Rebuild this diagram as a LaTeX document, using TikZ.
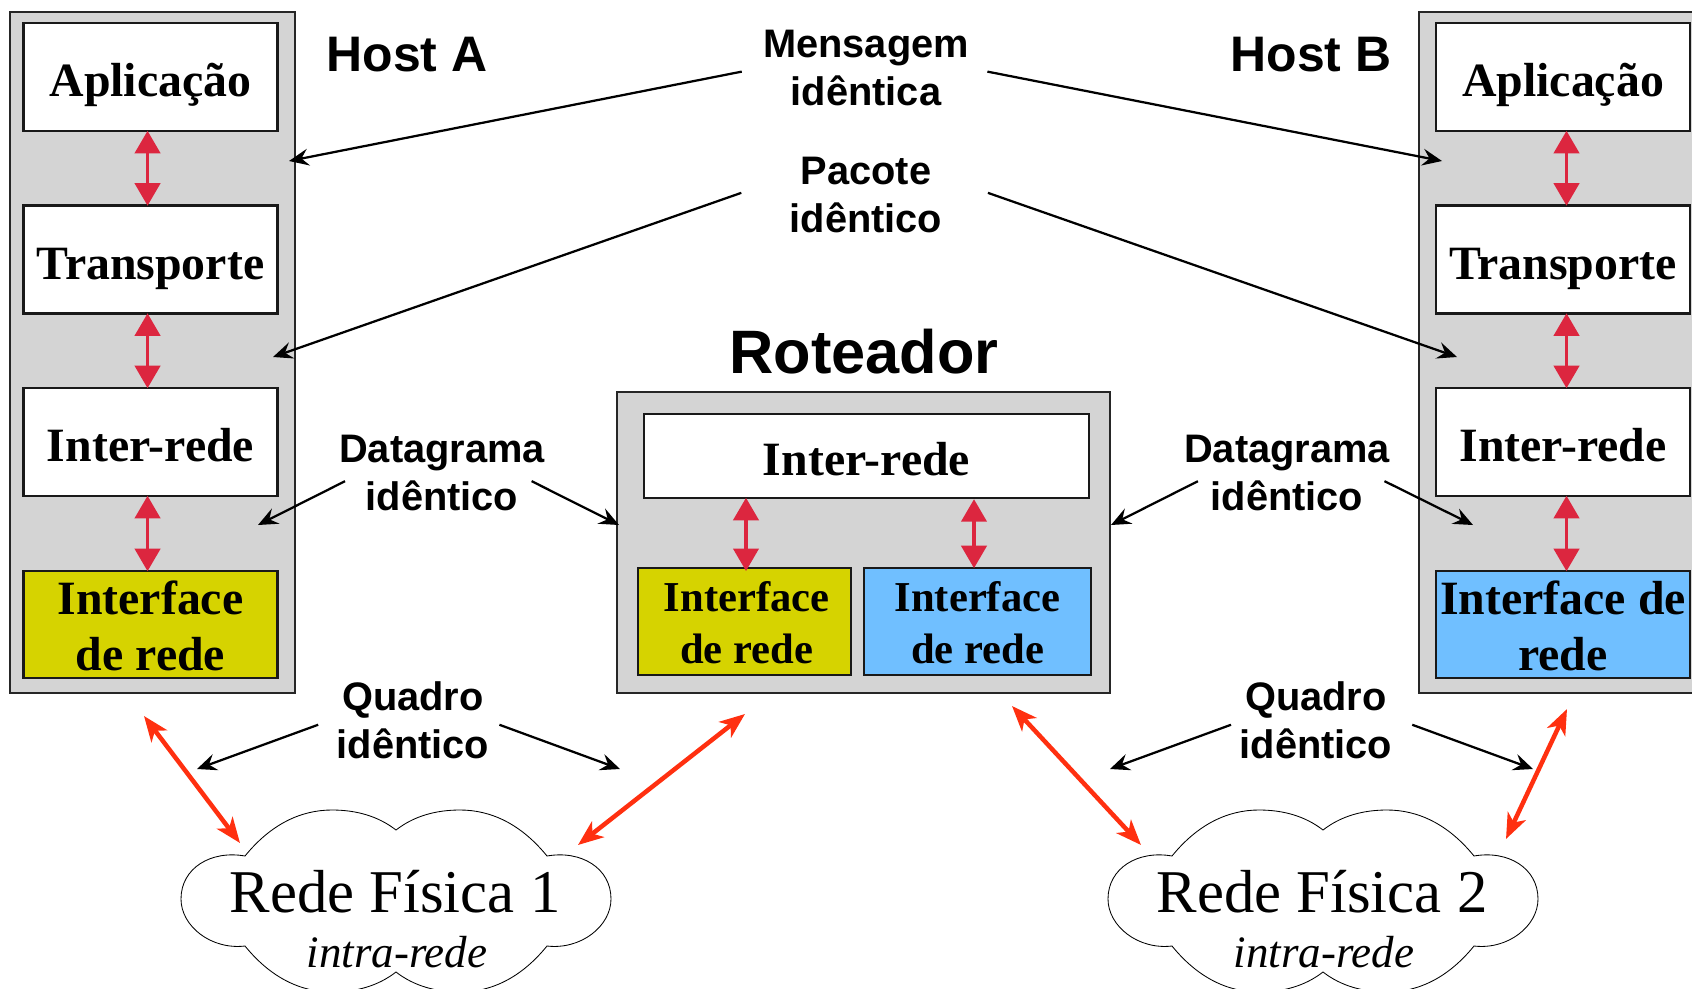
\documentclass[tikz,border=0pt]{standalone}
\usepackage{fontspec}
\setmainfont{Liberation Serif}
\setsansfont{Liberation Sans}
\usetikzlibrary{arrows.meta}
\definecolor{caixa_cinza}{HTML}{D4D4D4}
\definecolor{caixa_amarela}{HTML}{D6D300}
\definecolor{caixa_azul}{HTML}{70BFFF}
\definecolor{seta_interna}{HTML}{DC263F}
\definecolor{seta_fisica}{HTML}{FF3010}
\tikzset{
  externo/.style={draw=black!85, line width=1.7pt, fill=caixa_cinza, inner sep=0},
  camada/.style={draw=black!90, line width=1.7pt, fill=white, inner sep=0, align=center,
    minimum width=6.35cm, minimum height=2.7cm, font=\bfseries\fontsize{34}{40}\selectfont},
  linha/.style={camada, text height=35pt, text depth=7pt},
  camadar/.style={camada, font=\bfseries\fontsize{30.3}{37}\selectfont, minimum height=2.675cm},
  rotulo/.style={inner sep=0, align=center, font=\sffamily\bfseries\fontsize{28.3}{33.8}\selectfont},
  titulo/.style={inner sep=0, font=\sffamily\bfseries\fontsize{35.5}{40}\selectfont},
  interna/.style={{Triangle[length=16pt,width=18pt]}-{Triangle[length=16pt,width=18pt]}, seta_interna, line width=2.3pt},
  fisica/.style={{Stealth[length=18pt,width=14pt,inset=5pt]}-{Stealth[length=18pt,width=14pt,inset=5pt]}, seta_fisica, line width=3.2pt},
  preta/.style={-{Stealth[length=14pt,width=12pt,inset=5pt]}, black, line width=1.6pt}
}

\begin{document}
\begin{tikzpicture}[x=0.025cm, y=-0.025cm]
\useasboundingbox (0,0) rectangle (1692,988);

% host A
\node[externo, minimum width=7.125cm, minimum height=17.025cm] (hostA) at (152.5,352.5) {};
\node[linha] (apA) at (150.5,77) {Aplicação};
\node[linha] (trA) at (150.5,259.5) {Transporte};
\node[linha] (irA) at (150.5,442) {Inter-rede};
\node[camada, fill=caixa_amarela, minimum height=2.675cm] (ifA) at (150.5,624.5) {\rule{0pt}{26.2pt}Interface\\de rede};
\node[titulo] (nomeA) at (407,55) {Host A};

% host B
\node[externo, minimum width=7.5cm, minimum height=17.025cm] (hostB) at (1569,352.5) {};
\node[linha] (apB) at (1563,77) {Aplicação};
\node[linha] (trB) at (1563,259.5) {Transporte};
\node[linha] (irB) at (1563,442) {Inter-rede};
\node[camada, fill=caixa_azul, minimum height=2.675cm] (ifB) at (1563,624.5) {\rule{0pt}{26.2pt}Interface de\\rede};
\node[titulo] (nomeB) at (1311,55) {Host B};

% roteador
\node[externo, minimum width=12.325cm, minimum height=7.525cm] (rot) at (863.5,542.5) {};
\node[linha, minimum width=11.125cm, minimum height=2.1cm] (irR) at (866.5,456) {Inter-rede};
\node[camadar, fill=caixa_amarela, minimum width=5.325cm] (ifR1) at (744.5,621.5) {\rule{0pt}{23pt}\hspace*{3pt}Interface\\\hspace*{3pt}de rede};
\node[camadar, fill=caixa_azul, minimum width=5.675cm] (ifR2) at (977.5,621.5) {\rule{0pt}{23pt}Interface\\de rede};
\node[titulo, font=\sffamily\bfseries\fontsize{43.6}{48}\selectfont] (nomeR) at (864,352) {Roteador};

% setas entre camadas
\foreach \s/\t in {A/-2.1pt, B/2.5pt} {
  \draw[interna, shorten <=-1pt, shorten >=-1pt] ([xshift=\t]ap\s.south) -- ([xshift=\t]tr\s.north);
  \draw[interna, shorten <=-1pt, shorten >=-1pt] ([xshift=\t]tr\s.south) -- ([xshift=\t]ir\s.north);
  \draw[interna, shorten <=-1pt, shorten >=-1pt] ([xshift=\t]ir\s.south) -- ([xshift=\t]if\s.north);
}
\draw[interna, shorten <=-3pt, shorten >=-1pt] (ifR1.north -| 746,0) -- (irR.south -| 746,0);
\draw[interna, shorten <=-1pt] (ifR2.north -| 974,0) -- (irR.south -| 974,0);

% rotulos
\node[rotulo] (msg) at (866,68) {Mensagem\\idêntica};
\node[rotulo, minimum width=6.15cm] (pct) at (866,195) {Pacote\\idêntico};
\node[rotulo, inner xsep=-7pt] (dgA) at (442,473) {Datagrama\\idêntico};
\node[rotulo, inner xsep=-7pt] (dgB) at (1287,473) {Datagrama\\idêntico};
\node[rotulo, inner xsep=10pt] (qdA) at (413,720) {Quadro\\idêntico};
\node[rotulo, inner xsep=10pt] (qdB) at (1316,720) {Quadro\\idêntico};

\coordinate (msgA) at (289,161);
\coordinate (msgB) at (1442,161);
\coordinate (pctA) at (273,357);
\coordinate (pctB) at (1457,357);
\coordinate (dgA1) at (258,525);
\coordinate (dgA2) at (619,525);
\coordinate (dgB1) at (1111,525);
\coordinate (dgB2) at (1473,525);
\coordinate (qdA1) at (197,769);
\coordinate (qdA2) at (620,769);
\coordinate (qdB1) at (1110,769);
\coordinate (qdB2) at (1533,769);

\draw[preta] ([xshift=-15pt]msg.182) -- (msgA);
\draw[preta] ([xshift=13pt]msg.-2) -- (msgB);
\draw[preta] ([xshift=-1pt]pct.179) -- (pctA);
\draw[preta] ([xshift=-1pt]pct.1) -- (pctB);
\draw[preta] ([xshift=-2.6pt]dgA.185) -- (dgA1);
\draw[preta] ([xshift=-2.6pt]dgA.-5) -- (dgA2);
\draw[preta] ([xshift=3pt]dgB.185) -- (dgB1);
\draw[preta] ([xshift=3pt]dgB.-5) -- (dgB2);
\draw[preta] ([xshift=-3pt]qdA.183) -- (qdA1);
\draw[preta] ([xshift=-3pt]qdA.-3) -- (qdA2);
\draw[preta] ([xshift=4pt]qdB.183) -- (qdB1);
\draw[preta] ([xshift=4pt]qdB.-3) -- (qdB2);

% nuvens
\foreach \n/\cx in {1/396, 2/1323} {
  \begin{scope}[shift={(\cx,896)}]
    \draw[black, line width=0.6pt, fill=white] (-151,-40)
      .. controls (-125,-72) and (-95,-86) .. (-64,-86)
      .. controls (-40,-86) and (-18,-80) .. (0,-66)
      .. controls (18,-80) and (40,-86) .. (64,-86)
      .. controls (95,-86) and (125,-72) .. (151,-40)
      .. controls (185,-46) and (215,-28) .. (215,3)
      .. controls (215,30) and (185,54) .. (151,50)
      .. controls (125,82) and (95,96) .. (64,96)
      .. controls (40,96) and (18,90) .. (0,76)
      .. controls (-18,90) and (-40,96) .. (-64,96)
      .. controls (-95,96) and (-125,82) .. (-151,50)
      .. controls (-185,54) and (-215,30) .. (-215,3)
      .. controls (-215,-28) and (-185,-46) .. (-151,-40) -- cycle;
    \node[inner sep=0, font=\fontsize{43.2}{48}\selectfont] (rede\n) at (-1,-4) {Rede Física \n};
    \node[inner sep=0, font=\itshape\fontsize{32}{40}\selectfont] (intra\n) at (1,56) {intra-rede};
  \end{scope}
}

% setas da rede fisica
\coordinate (fA1) at (144,716);
\coordinate (fA2) at (240,843);
\coordinate (fB1) at (745,714);
\coordinate (fB2) at (578,845);
\coordinate (fC1) at (1012,706);
\coordinate (fC2) at (1141,845);
\coordinate (fD1) at (1567,709);
\coordinate (fD2) at (1506,839);
\draw[fisica] (fA1) -- (fA2);
\draw[fisica] (fB1) -- (fB2);
\draw[fisica] (fC1) -- (fC2);
\draw[fisica] (fD1) -- (fD2);

\end{tikzpicture}
\end{document}
